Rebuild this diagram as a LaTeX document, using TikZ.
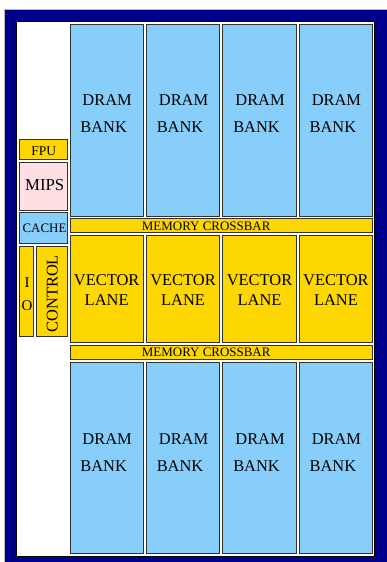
\documentclass[tikz,border=0pt]{standalone}
\usepackage{fontspec}
\setmainfont{Liberation Serif}
\usetikzlibrary{calc}
\definecolor{dramblue}{RGB}{135,206,250}
\definecolor{laneyellow}{RGB}{255,215,0}
\definecolor{mipspink}{RGB}{255,224,226}
\definecolor{framenavy}{RGB}{0,0,139}
\definecolor{boxline}{RGB}{50,50,50}
\tikzset{
  chipbox/.style={draw=boxline, line width=0.9bp, inner sep=0pt, outer sep=0pt, anchor=north west},
  drambox/.style={chipbox, fill=dramblue},
  lanebox/.style={chipbox, fill=laneyellow},
  mipsbox/.style={chipbox, fill=mipspink},
  bigtxt/.style={font=\fontsize{16.5}{27}\selectfont, align=center, inner sep=0pt},
  lanetxt/.style={font=\fontsize{16.5}{20}\selectfont, align=center, inner sep=0pt},
  smalltxt/.style={font=\fontsize{13}{15}\selectfont, inner sep=0pt, anchor=base},
}
\begin{document}
\begin{tikzpicture}[x=1bp,y=-1bp]
\useasboundingbox (0,0) rectangle (386,562);
% frame
\fill[framenavy] (5,10) rectangle (392,568);
\draw[gray!55, line width=0.8bp] (4.5,568) -- (4.5,9.5) -- (392,9.5);
\filldraw[fill=white, draw=black, line width=0.6bp] (16,21) rectangle (374,556);
% columns
\foreach \i/\x in {1/70,2/146.4,3/222.9,4/299.3}{
  \node[drambox, minimum width=73.3bp, minimum height=192bp] (dt\i) at (\x,24) {};
  \node[bigtxt] (dtt\i) at ($(dt\i.center)+(0.5,-6)$) {DRAM\\BANK\hspace{7bp}\mbox{}};
  \node[lanebox, minimum width=73.3bp, minimum height=107.4bp] (vl\i) at (\x,235.3) {};
  \node[lanetxt] (vlt\i) at ($(vl\i.center)+(0,1.5)$) {VECTOR\\LANE};
  \node[drambox, minimum width=73.3bp, minimum height=191.3bp] (db\i) at (\x,362) {};
  \node[bigtxt] (dbt\i) at ($(db\i.center)+(0.5,-5)$) {DRAM\\BANK\hspace{7bp}\mbox{}};
}
% crossbars
\node[lanebox, minimum width=302.6bp, minimum height=14bp] (xb1) at (70,218.7) {};
\node[smalltxt] (xbt1) at (206.2,230) {MEMORY CROSSBAR};
\node[lanebox, minimum width=302.6bp, minimum height=14.2bp] (xb2) at (70,345.3) {};
\node[smalltxt] (xbt2) at (206.2,356.5) {MEMORY CROSSBAR};
% left column
\node[lanebox, minimum width=48.4bp, minimum height=20bp] (fpu) at (19.3,139.3) {};
\node[smalltxt, font=\fontsize{13.5}{15}\selectfont] (fput) at (43.8,155.7) {FPU};
\node[mipsbox, minimum width=48.4bp, minimum height=48.7bp] (mips) at (19.3,162) {};
\node[smalltxt, font=\fontsize{16.8}{18}\selectfont] (mipst) at (44.7,191) {MIPS};
\node[drambox, minimum width=48.4bp, minimum height=30.6bp] (cache) at (19.3,212.7) {};
\node[smalltxt] (cachet) at (44.5,232.3) {CACHE};
\node[lanebox, minimum width=14.4bp, minimum height=90.7bp] (io) at (19.3,246) {};
\node[font=\fontsize{15}{23}\selectfont, align=center, inner sep=0pt] (iot) at ($(io.center)+(0.5,3)$) {I\\O};
\node[lanebox, minimum width=31.7bp, minimum height=90.7bp] (ctrl) at (36,246) {};
\node[font=\fontsize{16.5}{18}\selectfont, inner sep=0pt, rotate=90] (ctrlt) at ($(ctrl.center)+(0.4,2.5)$) {CONTROL};
\end{tikzpicture}
\end{document}
